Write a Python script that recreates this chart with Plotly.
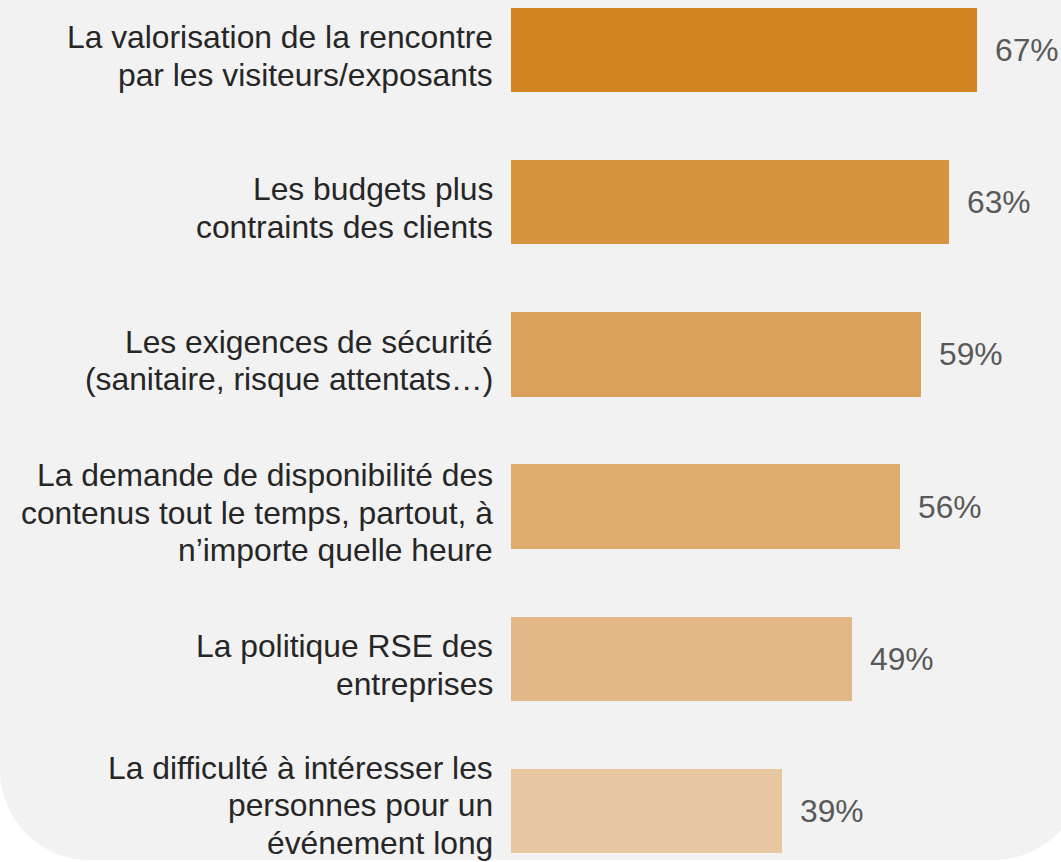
import plotly.graph_objects as go

categories = [
    "La valorisation de la rencontre<br>par les visiteurs/exposants",
    "Les budgets plus<br>contraints des clients",
    "Les exigences de sécurité<br>(sanitaire, risque attentats…)",
    "La demande de disponibilité des<br>contenus tout le temps, partout, à<br>n’importe quelle heure",
    "La politique RSE des<br>entreprises",
    "La difficulté à intéresser les<br>personnes pour un<br>événement long",
]
values = [67, 63, 59, 56, 49, 39]
bar_colors = ["#D38522", "#D6943E", "#DBA15A", "#DEAC6D", "#E2B986", "#E6C79F"]

W, H = 1061, 862
ML, MR, MT, MB = 511, 0, 0, 0
PW, PH = W - ML - MR, H - MT - MB
FONT = "Arial, 'Liberation Sans', sans-serif"
FS = 31.8
STEP = 152.2          # pixels per category
FIRST = 50            # pixel centre of first category
LINE_H = 37.5         # label line spacing in px
LABEL_DROP = 6        # labels sit slightly below bar centre
CAP_MID = 0.356 * FS  # baseline to cap-centre distance

positions = list(range(len(categories)))

fig = go.Figure()
fig.add_trace(go.Bar(
    x=values, y=positions, orientation="h",
    marker=dict(color=bar_colors, line=dict(width=0)),
    width=0.555, hoverinfo="skip", showlegend=False,
))

annotations = []
for v, p in zip(values, positions):
    annotations.append(dict(
        x=v, y=p, xref="x", yref="y", text=f"{v}%", showarrow=False,
        xanchor="left", yanchor="middle", xshift=16,
        font=dict(family=FONT, size=FS, color="#595959"),
    ))

# category labels, one annotation per line for tighter line spacing
for label, p in zip(categories, positions):
    lines = label.split("<br>")
    n = len(lines)
    centre_px = FIRST + p * STEP
    offs = [LABEL_DROP + (j - (n - 1) / 2) * LINE_H for j in range(n)]
    # keep the last line (with descenders) inside the figure
    last_base = centre_px + offs[-1] + CAP_MID
    if last_base > H - 8:
        d = last_base - (H - 8)
        offs = [o - d for o in offs]
    for line, o in zip(lines, offs):
        annotations.append(dict(
            x=0, y=p, xref="paper", yref="y", text=line, showarrow=False,
            xanchor="right", yanchor="middle", xshift=-16, yshift=-o,
            font=dict(family=FONT, size=FS, color="#262626"),
        ))


def px2paper(px, py):
    return (px - ML) / PW, 1 - (py - MT) / PH


# rounded grey panel (background decoration)
R = 90
k = 0.5523 * R
left, right, top, bottom = 0, 1084, -5, 860
pts = [
    ("M", [(left, top)]),
    ("L", [(right, top)]),
    ("L", [(right, bottom - R)]),
    ("C", [(right, bottom - R + k), (right - R + k, bottom), (right - R, bottom)]),
    ("L", [(left + R, bottom)]),
    ("C", [(left + R - k, bottom), (left, bottom - R + k), (left, bottom - R)]),
]
path = ""
for cmd, plist in pts:
    path += cmd + " " + " ".join("%.5f,%.5f" % px2paper(a, b) for a, b in plist) + " "
path += "Z"

fig.update_layout(
    width=W, height=H,
    margin=dict(l=ML, r=MR, t=MT, b=MB, autoexpand=False),
    paper_bgcolor="white",
    plot_bgcolor="rgba(0,0,0,0)",
    shapes=[dict(type="path", xref="paper", yref="paper", path=path,
                 fillcolor="#F2F2F2", line=dict(width=0), layer="below")],
    annotations=annotations,
    xaxis=dict(range=[0, PW / 6.955], visible=False, fixedrange=True),
    yaxis=dict(
        range=[(H - FIRST) / STEP, -FIRST / STEP],
        showticklabels=False,
        showgrid=False, zeroline=False, showline=False, ticks="",
        automargin=False, fixedrange=True,
    ),
    bargap=0,
)

fig.write_html(
    "out.html",
    config={"displayModeBar": False},
    post_script="document.body.style.margin='0';document.body.style.overflow='hidden';",
)
